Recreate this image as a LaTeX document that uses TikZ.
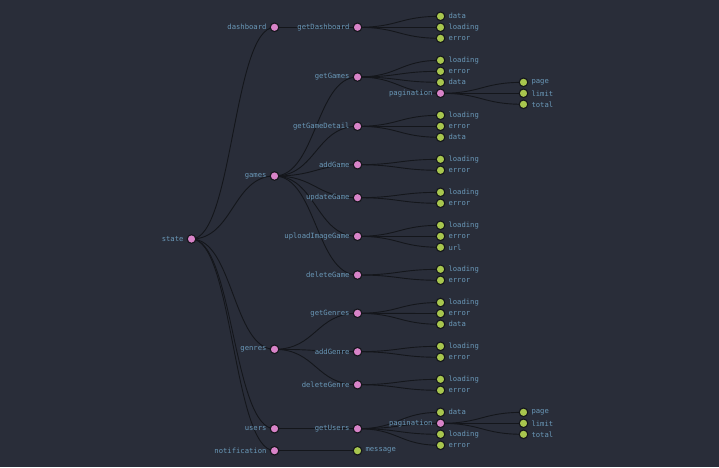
\documentclass[tikz,border=0pt]{standalone}
\usepackage{fontspec}
\setmonofont{DejaVu Sans Mono}
\usetikzlibrary{calc}
\definecolor{bgc}{HTML}{292D39}
\definecolor{pkc}{HTML}{D883C8}
\definecolor{gnc}{HTML}{A8C64E}
\definecolor{txc}{HTML}{6A98B8}
\definecolor{lnc}{HTML}{14161B}
\newcommand\lnk[2]{\draw[edge] let \p1=(#1.center), \p2=(#2.center) in (\p1) .. controls ({(\x1+\x2)/2},\y1) and ({(\x1+\x2)/2},\y2) .. (\p2);}
\begin{document}
\begin{tikzpicture}[x=1pt,y=-1pt,
  dot/.style={circle,draw=lnc,line width=1.1pt,inner sep=0pt,minimum size=8.6pt},
  pk/.style={dot,fill=pkc,label={[lbl]left:#1}},
  gn/.style={dot,fill=gnc,label={[lbl]right:#1}},
  lbl/.style={text=txc,font=\ttfamily\fontsize{7.2}{8}\selectfont,inner sep=0pt,label distance=3pt},
  edge/.style={draw=lnc,line width=0.9pt}]
\fill[bgc] (0,0) rectangle (719,467);
\useasboundingbox (0,0) rectangle (719,467);
% columns
\def\Xa{191.5}\def\Xb{274.5}\def\Xc{357.5}\def\Xd{440.5}\def\Xe{523.5}
% nodes (drawn later on top via layers: define first with positions)
\begin{scope}[on background layer/.style={}]
\end{scope}
% coordinates for edges
\path
 (\Xa,239) coordinate (state)
 (\Xb,27.3) coordinate (dashboard)
 (\Xc,27.3) coordinate (getDashboard)
 (\Xd,16.3) coordinate (gdData) (\Xd,27.3) coordinate (gdLoading) (\Xd,38.3) coordinate (gdError)
 (\Xb,176) coordinate (games)
 (\Xc,77) coordinate (getGames)
 (\Xd,60.3) coordinate (ggLoading) (\Xd,71.3) coordinate (ggError) (\Xd,82.3) coordinate (ggData) (\Xd,93.3) coordinate (ggPag)
 (\Xe,82.3) coordinate (ggPage) (\Xe,93.3) coordinate (ggLimit) (\Xe,104.3) coordinate (ggTotal)
 (\Xc,126.3) coordinate (getGameDetail)
 (\Xd,115.3) coordinate (gdtLoading) (\Xd,126.3) coordinate (gdtError) (\Xd,137.3) coordinate (gdtData)
 (\Xc,164.7) coordinate (addGame)
 (\Xd,159.3) coordinate (agLoading) (\Xd,170.3) coordinate (agError)
 (\Xc,197.7) coordinate (updateGame)
 (\Xd,192.3) coordinate (ugLoading) (\Xd,203.3) coordinate (ugError)
 (\Xc,236.3) coordinate (uploadImageGame)
 (\Xd,225.3) coordinate (uiLoading) (\Xd,236.3) coordinate (uiError) (\Xd,247.3) coordinate (uiUrl)
 (\Xc,275) coordinate (deleteGame)
 (\Xd,269.3) coordinate (dgLoading) (\Xd,280.3) coordinate (dgError)
 (\Xb,349.3) coordinate (genres)
 (\Xc,313.3) coordinate (getGenres)
 (\Xd,302.5) coordinate (gnLoading) (\Xd,313.5) coordinate (gnError) (\Xd,324.3) coordinate (gnData)
 (\Xc,351.7) coordinate (addGenre)
 (\Xd,346.3) coordinate (anLoading) (\Xd,357.3) coordinate (anError)
 (\Xc,384.7) coordinate (deleteGenre)
 (\Xd,379.3) coordinate (dnLoading) (\Xd,390.3) coordinate (dnError)
 (\Xb,428.7) coordinate (users)
 (\Xc,428.7) coordinate (getUsers)
 (\Xd,412.3) coordinate (guData) (\Xd,423.3) coordinate (guPag) (\Xd,434.3) coordinate (guLoading) (\Xd,445.3) coordinate (guError)
 (\Xe,412.3) coordinate (guPage) (\Xe,423.3) coordinate (guLimit) (\Xe,434.3) coordinate (guTotal)
 (\Xb,450.7) coordinate (notification)
 (\Xc,450.7) coordinate (message);
% edges
\lnk{state}{dashboard}\lnk{state}{games}\lnk{state}{genres}\lnk{state}{users}\lnk{state}{notification}
\lnk{dashboard}{getDashboard}
\lnk{getDashboard}{gdData}\lnk{getDashboard}{gdLoading}\lnk{getDashboard}{gdError}
\lnk{games}{getGames}\lnk{games}{getGameDetail}\lnk{games}{addGame}\lnk{games}{updateGame}\lnk{games}{uploadImageGame}\lnk{games}{deleteGame}
\lnk{getGames}{ggLoading}\lnk{getGames}{ggError}\lnk{getGames}{ggData}\lnk{getGames}{ggPag}
\lnk{ggPag}{ggPage}\lnk{ggPag}{ggLimit}\lnk{ggPag}{ggTotal}
\lnk{getGameDetail}{gdtLoading}\lnk{getGameDetail}{gdtError}\lnk{getGameDetail}{gdtData}
\lnk{addGame}{agLoading}\lnk{addGame}{agError}
\lnk{updateGame}{ugLoading}\lnk{updateGame}{ugError}
\lnk{uploadImageGame}{uiLoading}\lnk{uploadImageGame}{uiError}\lnk{uploadImageGame}{uiUrl}
\lnk{deleteGame}{dgLoading}\lnk{deleteGame}{dgError}
\lnk{genres}{getGenres}\lnk{genres}{addGenre}\lnk{genres}{deleteGenre}
\lnk{getGenres}{gnLoading}\lnk{getGenres}{gnError}\lnk{getGenres}{gnData}
\lnk{addGenre}{anLoading}\lnk{addGenre}{anError}
\lnk{deleteGenre}{dnLoading}\lnk{deleteGenre}{dnError}
\lnk{users}{getUsers}
\lnk{getUsers}{guData}\lnk{getUsers}{guPag}\lnk{getUsers}{guLoading}\lnk{getUsers}{guError}
\lnk{guPag}{guPage}\lnk{guPag}{guLimit}\lnk{guPag}{guTotal}
\lnk{notification}{message}
% nodes
\node[pk=state] (nState) at (state) {};
\node[pk=dashboard] (nDashboard) at (dashboard) {};
\node[pk=getDashboard] (nGetDashboard) at (getDashboard) {};
\node[gn=data] (nGdData) at (gdData) {};
\node[gn=loading] (nGdLoading) at (gdLoading) {};
\node[gn=error] (nGdError) at (gdError) {};
\node[pk=games] (nGames) at (games) {};
\node[pk=getGames] (nGetGames) at (getGames) {};
\node[gn=loading] (nGgLoading) at (ggLoading) {};
\node[gn=error] (nGgError) at (ggError) {};
\node[gn=data] (nGgData) at (ggData) {};
\node[pk=pagination] (nGgPag) at (ggPag) {};
\node[gn=page] (nGgPage) at (ggPage) {};
\node[gn=limit] (nGgLimit) at (ggLimit) {};
\node[gn=total] (nGgTotal) at (ggTotal) {};
\node[pk=getGameDetail] (nGetGameDetail) at (getGameDetail) {};
\node[gn=loading] (nGdtLoading) at (gdtLoading) {};
\node[gn=error] (nGdtError) at (gdtError) {};
\node[gn=data] (nGdtData) at (gdtData) {};
\node[pk=addGame] (nAddGame) at (addGame) {};
\node[gn=loading] (nAgLoading) at (agLoading) {};
\node[gn=error] (nAgError) at (agError) {};
\node[pk=updateGame] (nUpdateGame) at (updateGame) {};
\node[gn=loading] (nUgLoading) at (ugLoading) {};
\node[gn=error] (nUgError) at (ugError) {};
\node[pk=uploadImageGame] (nUploadImageGame) at (uploadImageGame) {};
\node[gn=loading] (nUiLoading) at (uiLoading) {};
\node[gn=error] (nUiError) at (uiError) {};
\node[gn=url] (nUiUrl) at (uiUrl) {};
\node[pk=deleteGame] (nDeleteGame) at (deleteGame) {};
\node[gn=loading] (nDgLoading) at (dgLoading) {};
\node[gn=error] (nDgError) at (dgError) {};
\node[pk=genres] (nGenres) at (genres) {};
\node[pk=getGenres] (nGetGenres) at (getGenres) {};
\node[gn=loading] (nGnLoading) at (gnLoading) {};
\node[gn=error] (nGnError) at (gnError) {};
\node[gn=data] (nGnData) at (gnData) {};
\node[pk=addGenre] (nAddGenre) at (addGenre) {};
\node[gn=loading] (nAnLoading) at (anLoading) {};
\node[gn=error] (nAnError) at (anError) {};
\node[pk=deleteGenre] (nDeleteGenre) at (deleteGenre) {};
\node[gn=loading] (nDnLoading) at (dnLoading) {};
\node[gn=error] (nDnError) at (dnError) {};
\node[pk=users] (nUsers) at (users) {};
\node[pk=getUsers] (nGetUsers) at (getUsers) {};
\node[gn=data] (nGuData) at (guData) {};
\node[pk=pagination] (nGuPag) at (guPag) {};
\node[gn=loading] (nGuLoading) at (guLoading) {};
\node[gn=error] (nGuError) at (guError) {};
\node[gn=page] (nGuPage) at (guPage) {};
\node[gn=limit] (nGuLimit) at (guLimit) {};
\node[gn=total] (nGuTotal) at (guTotal) {};
\node[pk=notification] (nNotification) at (notification) {};
\node[gn=message] (nMessage) at (message) {};
\end{tikzpicture}
\end{document}
